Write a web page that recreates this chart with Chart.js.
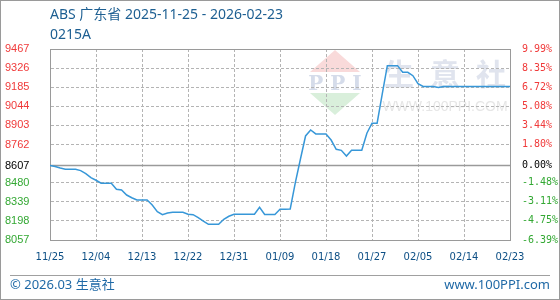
<!DOCTYPE html>
<html>
<head>
<meta charset="utf-8">
<script src="https://cdn.jsdelivr.net/npm/chart.js@4.4.1/dist/chart.umd.min.js"></script>
<style>
  html, body { margin: 0; padding: 0; background: #fff; }
  #wrap { position: relative; width: 560px; height: 300px; overflow: hidden; }
  #frame { position: absolute; left: 0; top: 0; width: 560px; height: 300px; box-sizing: border-box; border: 1px solid #9a9a9a; pointer-events: none; }
  canvas { position: absolute; left: 0; top: 0; }
  .title { position: absolute; left: 50px; font: 14px/20px "Noto Sans", "Noto Sans CJK SC", sans-serif; color: #1d5f92; white-space: nowrap; }
  .foot { position: absolute; top: 276px; font: 13px/16px "Noto Sans", "Noto Sans CJK SC", sans-serif; color: #1f69a6; white-space: nowrap; }
  #rule { position: absolute; left: 10px; top: 275px; width: 540px; height: 1px; background: #a0a0a0; }
</style>
</head>
<body>
<div id="wrap">
  <canvas id="priceChart" width="560" height="300"></canvas>
  <div class="title" style="top:4px">ABS 广东省 2025-11-25 - 2026-02-23</div>
  <div class="title" style="top:24px">0215A</div>
  <div id="rule"></div>
  <div class="foot" style="left:10px">© 2026.03 生意社</div>
  <div class="foot" style="right:10px">www.100PPI.com</div>
  <div id="frame"></div>
</div>
<script>
// ABS 广东省 daily price, 2025-11-25 .. 2026-02-23
const dateLabels = ['11/25', '12/04', '12/13', '12/22', '12/31', '01/09', '01/18', '01/27', '02/05', '02/14', '02/23'];
const tickStep = 9; // days between date labels
const yTickValues = [8057, 8198, 8339, 8480, 8607, 8762, 8903, 9044, 9185, 9326, 9467];
const basePrice = 8607;
const prices = [
    8607, 8600, 8588, 8579, 8579, 8579, 8569, 8547, 8517, 8498,
    8476, 8476, 8476, 8431, 8426, 8389, 8369, 8352, 8352, 8352,
    8315, 8266, 8244, 8256, 8261, 8261, 8261, 8247, 8244, 8222,
    8197, 8173, 8173, 8173, 8210, 8232, 8247, 8247, 8247, 8247,
    8247, 8298, 8245, 8245, 8245, 8284, 8284, 8286, 8480, 8655,
    8825, 8869, 8840, 8840, 8840, 8795, 8727, 8719, 8677, 8719,
    8719, 8719, 8845, 8919, 8919, 9133, 9344, 9344, 9344, 9295,
    9295, 9270, 9211, 9190, 9190, 9190, 9183, 9190, 9190, 9190,
    9190, 9190, 9190, 9190, 9190, 9190, 9190, 9190, 9190, 9190,
    9190
];

const colors = {
    line: '#3797d8',
    grid: '#b4b4b4',
    frame: '#9a9a9a',
    up: '#f03a3a',
    down: '#33a833',
    flat: '#000000',
    dateText: '#0d4f85'
};

function tickColor(ctx) {
    const v = ctx.tick.value;
    if (v > basePrice) return colors.up;
    if (v < basePrice) return colors.down;
    return colors.flat;
}

// watermark + top edge of the plot frame
const backdrop = {
    id: 'backdrop',
    beforeDraw(chart) {
        const c = chart.ctx;
        c.save();
        c.fillStyle = '#f9dada';
        c.beginPath(); c.moveTo(335, 50); c.lineTo(360, 72); c.lineTo(310, 72); c.closePath(); c.fill();
        c.fillStyle = '#d9efdb';
        c.beginPath(); c.moveTo(310, 93); c.lineTo(360, 93); c.lineTo(335, 115); c.closePath(); c.fill();
        c.textAlign = 'center';
        c.fillStyle = '#d5dcea';
        c.font = 'bold 20px "DejaVu Serif", serif';
        c.fillText('P P I', 335, 90);
        c.fillStyle = '#e0e4ee';
        c.font = 'bold 30px "Noto Sans CJK SC"';
        ['生', '意', '社'].forEach((ch, i) => c.fillText(ch, 399 + i * 46, 85));
        c.fillStyle = '#e6e6e6';
        c.font = '14px "Liberation Sans"';
        c.fillText('WWW.100PPI.COM', 445, 111);
        c.restore();
    },
    beforeDatasetsDraw(chart) {
        const a = chart.chartArea;
        const c = chart.ctx;
        c.save();
        c.strokeStyle = colors.frame;
        c.lineWidth = 1;
        c.beginPath();
        c.moveTo(a.left, a.top + 0.5);
        c.lineTo(a.right, a.top + 0.5);
        c.stroke();
        c.restore();
    }
};

new Chart(document.getElementById('priceChart'), {
    type: 'line',
    data: {
        datasets: [{
            label: '价格',
            data: prices.map((v, i) => ({ x: i, y: v })),
            borderColor: colors.line,
            borderWidth: 1.5,
            pointRadius: 0,
            tension: 0,
            fill: false,
            order: 1
        }, {
            label: '基准',
            data: [{ x: 0, y: basePrice }, { x: prices.length - 1, y: basePrice }],
            borderColor: colors.frame,
            borderWidth: 1.5,
            pointRadius: 0,
            fill: false,
            order: 2
        }]
    },
    plugins: [backdrop],
    options: {
        responsive: false,
        animation: false,
        devicePixelRatio: 1,
        layout: {
            padding: { left: 5, top: 49, right: 0, bottom: 0 }
        },
        plugins: {
            legend: { display: false },
            tooltip: { enabled: false }
        },
        scales: {
            x: {
                type: 'linear',
                min: 0,
                max: prices.length - 1,
                afterBuildTicks: function(scale) {
                    scale.ticks = dateLabels.map((_, i) => ({ value: i * tickStep }));
                },
                afterFit: function(scale) {
                    scale.height = 60;
                },
                ticks: {
                    autoSkip: false,
                    maxRotation: 0,
                    padding: 11,
                    color: colors.dateText,
                    font: { family: 'DejaVu Sans', size: 10 },
                    callback: function(value) {
                        return dateLabels[value / tickStep];
                    }
                },
                grid: {
                    color: colors.grid,
                    drawTicks: false
                },
                border: {
                    color: colors.frame,
                    dash: [3, 2]
                }
            },
            y: {
                position: 'left',
                min: yTickValues[0],
                max: yTickValues[yTickValues.length - 1],
                afterBuildTicks: function(scale) {
                    scale.ticks = yTickValues.map(v => ({ value: v }));
                },
                afterFit: function(scale) {
                    scale.width = 45;
                },
                ticks: {
                    autoSkip: false,
                    crossAlign: 'far',
                    color: tickColor,
                    font: { family: 'Liberation Sans', size: 11 },
                    callback: function(value) {
                        return String(value);
                    }
                },
                grid: {
                    drawTicks: false,
                    color: function(ctx) {
                        return ctx.tick && ctx.tick.value === basePrice ? 'rgba(0,0,0,0)' : colors.grid;
                    }
                },
                border: {
                    color: colors.frame,
                    dash: [3, 2]
                }
            },
            y2: {
                position: 'right',
                min: yTickValues[0],
                max: yTickValues[yTickValues.length - 1],
                afterBuildTicks: function(scale) {
                    scale.ticks = yTickValues.map(v => ({ value: v }));
                },
                afterFit: function(scale) {
                    scale.width = 50;
                },
                ticks: {
                    autoSkip: false,
                    padding: 4,
                    color: tickColor,
                    font: { family: 'DejaVu Sans Mono', size: 10 },
                    callback: function(value) {
                        return ((value / basePrice - 1) * 100).toFixed(2) + '%';
                    }
                },
                grid: { display: false },
                border: { color: colors.frame }
            }
        }
    }
});
</script>
</body>
</html>
